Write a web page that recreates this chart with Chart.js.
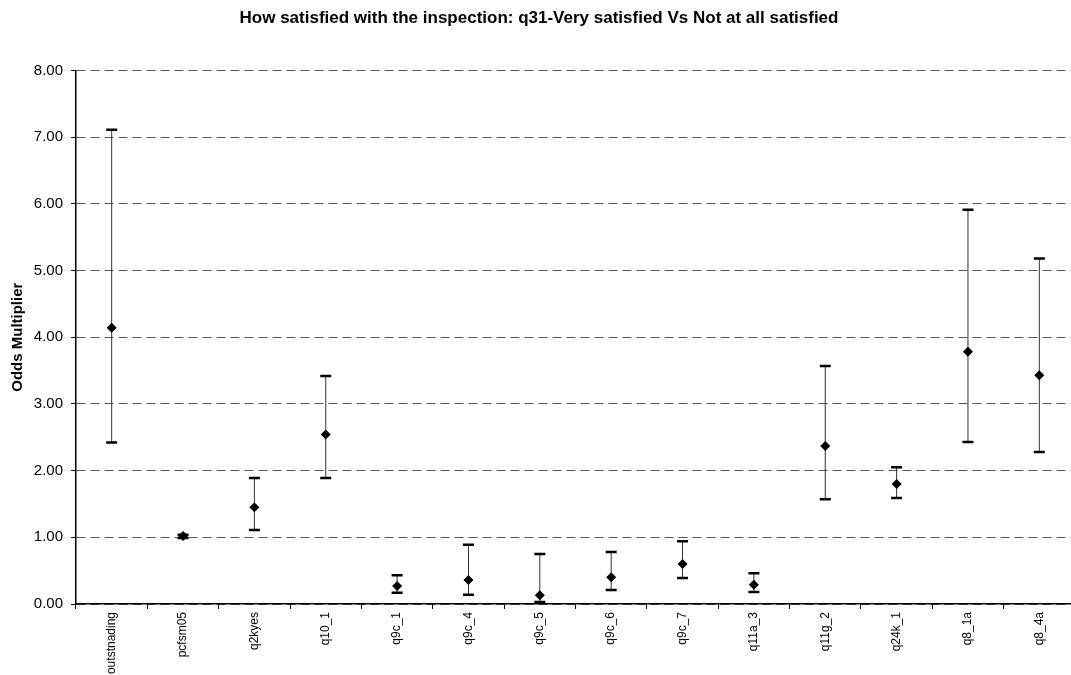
<!DOCTYPE html>
<html>
<head>
<meta charset="utf-8">
<script src="https://cdn.jsdelivr.net/npm/chart.js@4.4.1/dist/chart.umd.min.js"></script>
<style>
  html, body { margin: 0; padding: 0; background: #fff; overflow: hidden; }
  #wrap { width: 1071px; height: 675px; overflow: hidden; }
  #box { width: 1080px; height: 675px; }
</style>
</head>
<body>
<div id="wrap"><div id="box"><canvas id="oddsChart"></canvas></div></div>
<script>
// data
const categories = ["outstnading", "pcfsm05", "q2kyes", "q10_1", "q9c_1", "q9c_4", "q9c_5",
  "q9c_6", "q9c_7", "q11a_3", "q11g_2", "q24k_1", "q8_1a", "q8_4a"];
const oddsValues = [4.14, 1.02, 1.45, 2.54, 0.27, 0.36, 0.13, 0.40, 0.60, 0.29, 2.37, 1.80, 3.78, 3.43];
const lowerValues = [2.42, 0.99, 1.11, 1.89, 0.17, 0.14, 0.03, 0.21, 0.39, 0.18, 1.57, 1.59, 2.43, 2.28];
const upperValues = [7.11, 1.04, 1.89, 3.42, 0.43, 0.89, 0.75, 0.78, 0.94, 0.46, 3.57, 2.05, 5.91, 5.18];
const yTicks = [0, 1, 2, 3, 4, 5, 6, 7, 8];

const FONT = "'Liberation Sans', Arial, sans-serif";

// whiskers, placed through the chart's own scales
const errorBars = {
  id: "errorBars",
  beforeDatasetsDraw(chart) {
    const ctx = chart.ctx;
    const xs = chart.scales.x, ys = chart.scales.y;
    ctx.save();
    for (let i = 0; i < categories.length; i++) {
      const x = xs.getPixelForValue(i);
      const yLo = ys.getPixelForValue(lowerValues[i]);
      const yHi = ys.getPixelForValue(upperValues[i]);
      ctx.strokeStyle = "#333";
      ctx.lineWidth = 1;
      ctx.beginPath();
      ctx.moveTo(x, yLo);
      ctx.lineTo(x, yHi);
      ctx.stroke();
      ctx.strokeStyle = "#000";
      ctx.lineWidth = 2.5;
      ctx.beginPath();
      ctx.moveTo(x - 5.5, yLo); ctx.lineTo(x + 5.5, yLo);
      ctx.moveTo(x - 5.5, yHi); ctx.lineTo(x + 5.5, yHi);
      ctx.stroke();
    }
    ctx.restore();
  }
};

new Chart(document.getElementById("oddsChart"), {
  type: "line",
  data: {
    labels: categories,
    datasets: [{
      label: "Odds Multiplier",
      data: oddsValues,
      showLine: false,
      pointStyle: "rectRot",
      pointRadius: 5,
      pointBackgroundColor: "#000",
      pointBorderColor: "#000",
      pointBorderWidth: 0
    }]
  },
  plugins: [errorBars],
  options: {
    responsive: true,
    maintainAspectRatio: false,
    animation: false,
    layout: { padding: { left: 0, right: 2, top: 0, bottom: 0 } },
    plugins: {
      legend: { display: false },
      tooltip: { enabled: false },
      title: {
        display: true,
        text: "How satisfied with the inspection: q31-Very satisfied Vs Not at all satisfied",
        color: "#000",
        font: { family: FONT, size: 17, weight: "bold" },
        padding: { top: 8, bottom: 42 }
      }
    },
    scales: {
      x: {
        offset: true,
        grid: { display: true, offset: true, drawOnChartArea: false, color: "#000", tickLength: 5 },
        border: { color: "#000", width: 1.5 },
        ticks: {
          color: "#000",
          font: { family: FONT, size: 12 },
          minRotation: 90,
          maxRotation: 90,
          padding: 3,
          autoSkip: false
        },
        afterFit(scale) { scale.height = 71; }
      },
      y: {
        min: 0,
        max: 8,
        afterBuildTicks(scale) { scale.ticks = yTicks.map(v => ({ value: v })); },
        grid: { color: "#555", tickLength: 5, tickColor: "#000" },
        border: { color: "#000", width: 1.5, dash: [9, 5] },
        ticks: {
          color: "#000",
          font: { family: FONT, size: 15 },
          padding: 8,
          callback: v => Number(v).toFixed(2)
        },
        title: {
          display: true,
          text: "Odds Multiplier",
          color: "#000",
          font: { family: FONT, size: 15, weight: "bold" },
          padding: { top: 9, bottom: 0 }
        },
        afterFit(scale) { scale.width = 76; }
      }
    }
  }
});
</script>
</body>
</html>
